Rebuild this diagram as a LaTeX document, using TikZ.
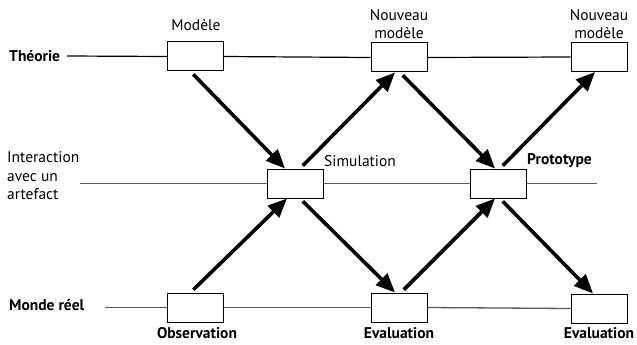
\documentclass[tikz,border=0pt]{standalone}
\usepackage{fontspec}
\setmainfont{PT Sans}
\usetikzlibrary{arrows.meta}
\begin{document}
\begin{tikzpicture}[x=1pt,y=-1pt,
  box/.style={draw,fill=white,minimum width=56pt,minimum height=29pt,inner sep=0pt,line width=1pt},
  lbl/.style={font=\fontsize{15.5}{18.5}\selectfont,inner sep=0pt,align=center},
  blbl/.style={lbl,font=\fontsize{15.5}{18.5}\selectfont\bfseries},
  axis/.style={line width=1.2pt},
  gaxis/.style={line width=1.3pt,black!65},
  flow/.style={line width=3.6pt,-{Triangle[length=19pt,width=16pt]},shorten <=4pt}
]
\useasboundingbox (0,0) rectangle (637,345);
% boxes
\node[box] (m) at (195.5,56.5) {};
\node[box] (nm1) at (399,57.5) {};
\node[box] (nm2) at (599,57) {};
\node[box] (sim) at (295,183.5) {};
\node[box] (pro) at (498,183.5) {};
\node[box] (obs) at (195.5,307.5) {};
\node[box] (ev1) at (399,307.5) {};
\node[box] (ev2) at (599,308.5) {};
% row labels
\node[blbl,anchor=west] (th) at (9,56) {Théorie};
\node[lbl,anchor=west,align=left] (ia) at (7,176) {Interaction\\avec un\\artefact};
\node[blbl,anchor=west] (mr) at (9,305) {Monde réel};
% horizontal lines
\coordinate (thS) at (67,56);
\coordinate (iaS) at (80,183.5);
\coordinate (iaE) at (597,183.5);
\coordinate (mrS) at (105,307.5);
\draw[axis] (thS) -- (m.west);
\draw[axis] (m.east) -- (nm1.west);
\draw[axis] (nm1.east) -- (nm2.west);
\draw[gaxis] (iaS) -- (sim.west);
\draw[gaxis] (sim.east) -- (pro.west);
\draw[gaxis] (pro.east) -- (iaE);
\draw[gaxis] (mrS) -- (obs.west);
\draw[gaxis] (obs.east) -- (ev1.west);
\draw[gaxis] (ev1.east) -- (ev2.west);
% box labels
\node[lbl] (lm) at (196,25) {Modèle};
\node[lbl] (lnm1) at (399,24) {Nouveau\\modèle};
\node[lbl] (lnm2) at (599,24) {Nouveau\\modèle};
\node[lbl,anchor=west] (lsim) at (324,161) {Simulation};
\node[blbl,anchor=west] (lpro) at (527,161) {Prototype};
\node[blbl] (lobs) at (197,333) {Observation};
\node[blbl] (lev1) at (399,333) {Evaluation};
\node[blbl] (lev2) at (599,333) {Evaluation};
% arrows
\draw[flow] ([xshift=-5pt]m.south) -- ([xshift=-10pt]sim.north);
\draw[flow] ([xshift=-5pt]obs.north) -- ([xshift=-8pt]sim.south);
\draw[flow] ([xshift=5pt]sim.north) -- ([xshift=-4pt]nm1.south);
\draw[flow] ([xshift=5pt]sim.south) -- ([xshift=-4pt]ev1.north);
\draw[flow] ([xshift=1pt]nm1.south) -- ([xshift=-3pt]pro.north);
\draw[flow] ([xshift=2pt]ev1.north) -- ([xshift=-3pt]pro.south);
\draw[flow] ([xshift=2pt]pro.north) -- ([xshift=-4pt]nm2.south);
\draw[flow] ([xshift=2pt]pro.south) -- ([xshift=-6pt]ev2.north);
\end{tikzpicture}
\end{document}
